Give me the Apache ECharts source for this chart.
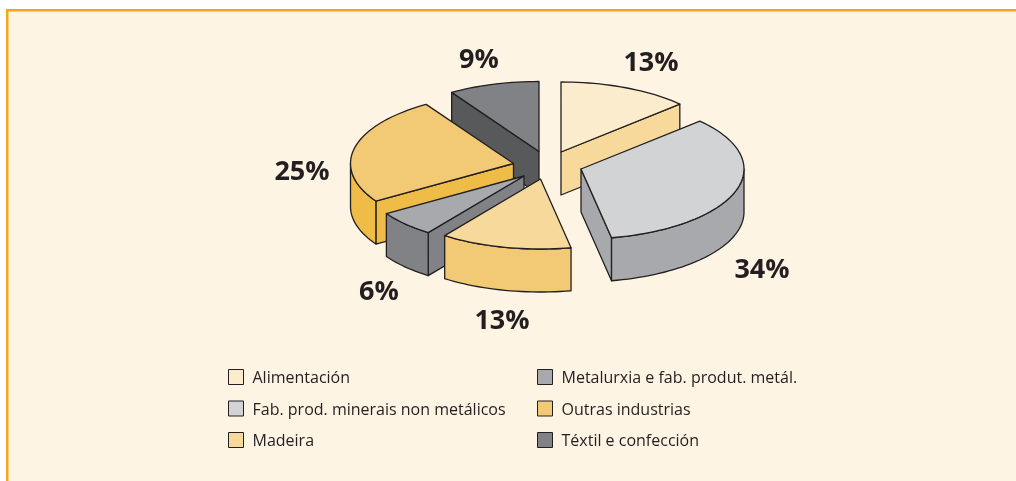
<!DOCTYPE html>
<html>
<head>
<meta charset="utf-8">
<style>html,body{margin:0;padding:0;background:#fff}#c{width:1016px;height:481px}</style>
<script src="https://cdn.jsdelivr.net/npm/echarts@6/dist/echarts.min.js"></script>
</head>
<body>
<div id="c"></div>
<script>
// --- data ---
const categories = ['Alimentación','Fab. prod. minerais non metálicos','Madeira','Metalurxia e fab. produt. metál.','Outras industrias','Téxtil e confección'];
const shares = [13,34,13,6,25,9];
// --- colours ---
const topColors  = ['#fcecce','#d1d3d5','#f7d99c','#a7a9ac','#f2c975','#808285'];
const sideColors = ['#f7d99c','#a7a9ac','#f2c975','#808285','#efbc47','#58595b'];
const ink = '#231f20';
// --- layout of the exploded 3D pie ---
const radiusX = 163, radiusY = 70, depth = 43;
const apexX = [561,581,540.5,524,513.5,539];
const apexY = [152,169,179,176,163.5,151.5];
const labelX = [651,762,502,379,302,479];
const labelY = [63,270,321,292,172,60];
const paintOrder = [1,2,6,5,4,3]; // painter's order of the slices, back to front

const total = shares.reduce((a,b)=>a+b,0);
const rad = d => d*Math.PI/180;

function arc(i,a0,a1,dy){
  const pts=[], n=Math.max(2,Math.ceil(Math.abs(a1-a0)/2));
  for(let k=0;k<=n;k++){
    const a=rad(a0+(a1-a0)*k/n);
    pts.push([apexX[i]+radiusX*Math.sin(a), apexY[i]-radiusY*Math.cos(a)+dy]);
  }
  return pts;
}
function poly(points,fill){
  return {type:'polygon',shape:{points},style:{fill,stroke:ink,lineWidth:1.3,lineJoin:'round'}};
}
function cutFace(i,a){
  const p=arc(i,a,a,0)[0], c=[apexX[i],apexY[i]];
  return poly([c,p,[p[0],p[1]+depth],[c[0],c[1]+depth]],sideColors[i]);
}
function renderSlice(i){
  return function(params,api){
    const value=api.value(0);
    const before=shares.slice(0,i).reduce((a,b)=>a+b,0);
    const a0=before/total*360, a1=a0+value/total*360;
    const children=[];
    const n0=a0-90, n1=a1+90;
    if(n0>90&&n0<270) children.push(cutFace(i,a0));
    if(n1>90&&n1<270) children.push(cutFace(i,a1));
    const r0=Math.max(a0,90), r1=Math.min(a1,270);
    if(r1>r0) children.push(poly(arc(i,r0,r1,0).concat(arc(i,r0,r1,depth).reverse()),sideColors[i]));
    children.push(poly([[apexX[i],apexY[i]]].concat(arc(i,a0,a1,0)),topColors[i]));
    children.push({type:'text',style:{text:value+'%',x:labelX[i],y:labelY[i],align:'center',verticalAlign:'middle',
      fill:ink,font:'bold 27px "Open Sans"'}});
    return {type:'group',children};
  };
}
function legendEntry(i){
  return {name:categories[i],icon:'rect',itemStyle:{color:topColors[i],borderColor:ink,borderWidth:1}};
}
const legendBase={orient:'vertical',top:369,itemWidth:15,itemHeight:15,itemGap:14,padding:0,selectedMode:false,
  formatter:n=>'{a|'+n+'}',
  textStyle:{color:ink,fontFamily:'"Open Sans"',fontSize:16,
    rich:{a:{color:ink,fontFamily:'"Open Sans"',fontSize:16,padding:[3,0,0,4]}}}};

const chart=echarts.init(document.getElementById('c'),null,{renderer:'canvas'});
chart.setOption({
  animation:false,
  backgroundColor:'#fff',
  graphic:[
    {type:'rect',z:-10,silent:true,shape:{x:6,y:9,width:1010,height:472},style:{fill:'#fdf4e4'}},
    {type:'rect',z:-9,silent:true,shape:{x:6,y:9,width:1010,height:2.5},style:{fill:'#f0a91c'}},
    {type:'rect',z:-9,silent:true,shape:{x:6,y:9,width:2.5,height:472},style:{fill:'#f0a91c'}}
  ],
  legend:[
    Object.assign({},legendBase,{left:228,data:[0,1,2].map(legendEntry)}),
    Object.assign({},legendBase,{left:537,data:[3,4,5].map(legendEntry)})
  ],
  series:categories.map((name,i)=>({
    type:'custom',name,coordinateSystem:'none',z:2+paintOrder[i],silent:true,
    data:[[shares[i]]],renderItem:renderSlice(i)
  }))
});
</script>
</body>
</html>
